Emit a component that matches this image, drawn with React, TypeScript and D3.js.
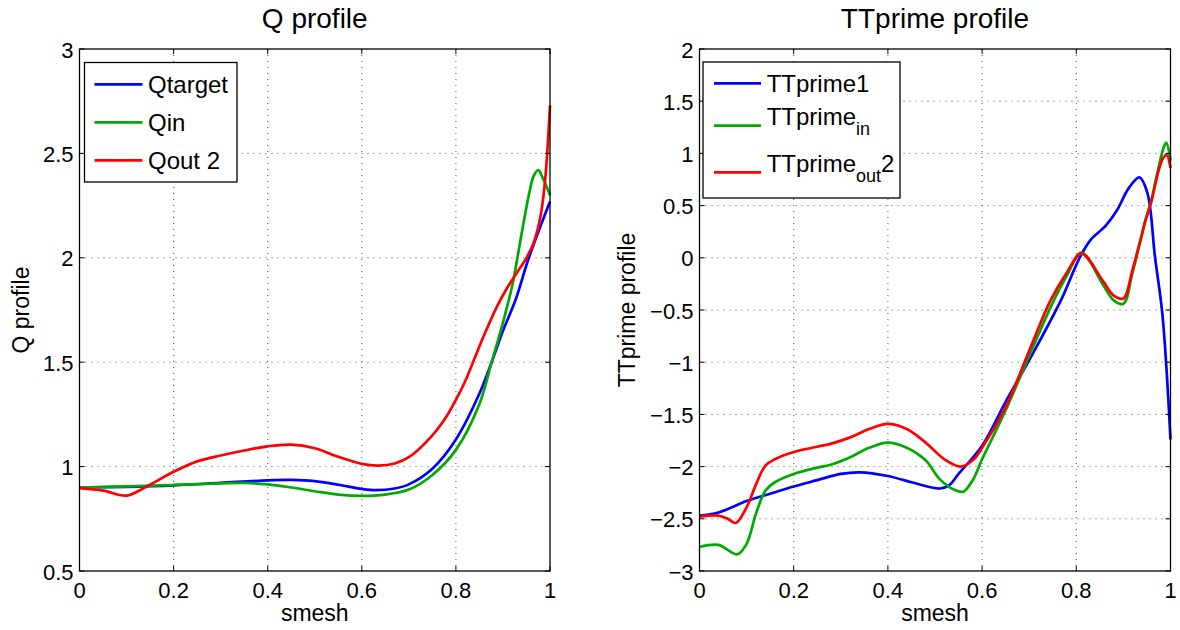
import React from "react";
import * as d3 from "d3";

// ---------- data ----------
const xTicks = [0, 0.2, 0.4, 0.6, 0.8, 1];
const xTickLabels = ["0", "0.2", "0.4", "0.6", "0.8", "1"];

const qYTicks = [0.5, 1, 1.5, 2, 2.5, 3];
const qYTickLabels = ["0.5", "1", "1.5", "2", "2.5", "3"];

const tYTicks = [-3, -2.5, -2, -1.5, -1, -0.5, 0, 0.5, 1, 1.5, 2];
const tYTickLabels = ["\u22123", "\u22122.5", "\u22122", "\u22121.5", "\u22121", "\u22120.5", "0", "0.5", "1", "1.5", "2"];

const qTargetS = [0, 0.1, 0.2, 0.3, 0.4, 0.45, 0.5, 0.55, 0.6, 0.63, 0.67, 0.7, 0.75, 0.8, 0.85, 0.876, 0.9, 0.927, 0.955, 1];
const qTargetV = [0.9, 0.903, 0.91, 0.922, 0.934, 0.936, 0.93, 0.913, 0.893, 0.887, 0.895, 0.915, 0.99, 1.13, 1.35, 1.5, 1.65, 1.8, 2.0, 2.27];

const qInS = [0, 0.1, 0.2, 0.3, 0.35, 0.4, 0.45, 0.5, 0.55, 0.6, 0.65, 0.7, 0.75, 0.8, 0.85, 0.876, 0.9, 0.92, 0.94, 0.955, 0.965, 0.975, 0.985, 1];
const qInV = [0.9, 0.905, 0.912, 0.92, 0.922, 0.915, 0.9, 0.882, 0.866, 0.86, 0.866, 0.89, 0.96, 1.08, 1.3, 1.5, 1.69, 1.87, 2.12, 2.3, 2.39, 2.42, 2.38, 2.3];

const qOutS = [0, 0.05, 0.1, 0.143, 0.2, 0.25, 0.3, 0.35, 0.4, 0.45, 0.5, 0.55, 0.6, 0.635, 0.67, 0.7, 0.75, 0.78, 0.8, 0.82, 0.84, 0.86, 0.888, 0.91, 0.93, 0.95, 0.965, 0.98, 0.99, 1];
const qOutV = [0.897, 0.885, 0.861, 0.905, 0.975, 1.025, 1.053, 1.077, 1.097, 1.105, 1.088, 1.047, 1.013, 1.005, 1.015, 1.045, 1.15, 1.24, 1.32, 1.41, 1.52, 1.63, 1.77, 1.86, 1.93, 2.0, 2.07, 2.2, 2.38, 2.73];

const tt1S = [0, 0.04, 0.1, 0.15, 0.2, 0.25, 0.3, 0.34, 0.4, 0.45, 0.51, 0.53, 0.55, 0.6, 0.65, 0.7, 0.767, 0.807, 0.83, 0.863, 0.887, 0.911, 0.934, 0.951, 0.967, 0.983, 1];
const tt1V = [-2.47, -2.44, -2.33, -2.26, -2.19, -2.13, -2.07, -2.055, -2.09, -2.15, -2.21, -2.18, -2.07, -1.8, -1.38, -0.98, -0.41, 0.0, 0.17, 0.31, 0.46, 0.665, 0.77, 0.62, 0.01, -0.55, -1.74];

const ttInS = [0, 0.04, 0.08, 0.1, 0.12, 0.14, 0.16, 0.2, 0.25, 0.28, 0.32, 0.36, 0.4, 0.44, 0.48, 0.51, 0.54, 0.56, 0.58, 0.6, 0.65, 0.7, 0.75, 0.78, 0.811, 0.855, 0.879, 0.9, 0.919, 0.935, 0.947, 0.959, 0.975, 0.985, 0.991, 1];
const ttInV = [-2.77, -2.75, -2.84, -2.74, -2.45, -2.23, -2.15, -2.07, -2.01, -1.98, -1.91, -1.82, -1.77, -1.82, -1.94, -2.12, -2.22, -2.24, -2.13, -1.93, -1.46, -0.94, -0.43, -0.17, 0.05, -0.245, -0.405, -0.44, -0.15, 0.14, 0.36, 0.55, 0.87, 1.05, 1.1, 0.93];

const ttOutS = [0, 0.04, 0.06, 0.077, 0.1, 0.12, 0.14, 0.16, 0.2, 0.25, 0.28, 0.32, 0.36, 0.4, 0.44, 0.48, 0.52, 0.555, 0.58, 0.6, 0.65, 0.7, 0.745, 0.78, 0.811, 0.855, 0.879, 0.9, 0.919, 0.935, 0.947, 0.959, 0.975, 0.985, 0.992, 1];
const ttOutV = [-2.48, -2.47, -2.5, -2.54, -2.39, -2.17, -1.99, -1.93, -1.86, -1.81, -1.78, -1.72, -1.64, -1.59, -1.64, -1.77, -1.93, -2.0, -1.94, -1.82, -1.43, -0.89, -0.41, -0.14, 0.04, -0.21, -0.36, -0.39, -0.12, 0.15, 0.36, 0.53, 0.84, 0.96, 0.985, 0.86];

const BLUE = "#0000ff";
const GREEN = "#00aa00";
const RED = "#ff0000";
const FONT = "'Liberation Sans', Arial, Helvetica, sans-serif";

type Series = { s: number[]; v: number[]; color: string };
type LegendRow = { parts: { t: string; sub?: boolean }[]; color: string; lineY: number; baseY: number };

function Panel(props: {
  x0: number; x1: number; y0: number; y1: number;
  yDomain: [number, number];
  yTicks: number[]; yTickLabels: string[];
  title: string; yLabel: string; yLabelX: number;
  series: Series[];
  legend: { bx: number; by: number; bw: number; bh: number; lx0: number; lx1: number; tx: number; rows: LegendRow[] };
}) {
  const { x0, x1, y0, y1 } = props;
  const xs = d3.scaleLinear().domain([0, 1]).range([x0, x1]);
  const ys = d3.scaleLinear().domain(props.yDomain).range([y1, y0]);
  const line = d3.line<[number, number]>().x((d) => xs(d[0])).y((d) => ys(d[1])).curve(d3.curveCatmullRom.alpha(0.5));
  const tick = 5;
  const lg = props.legend;
  return (
    <g fontFamily={FONT}>
      {/* grid */}
      {xTicks.map((t, i) =>
        i > 0 && i < xTicks.length - 1 ? (
          <line key={"gx" + i} x1={xs(t)} x2={xs(t)} y1={y0} y2={y1} stroke="#555" strokeWidth={1} strokeDasharray="1,5" />
        ) : null
      )}
      {props.yTicks.map((t, i) =>
        i > 0 && i < props.yTicks.length - 1 ? (
          <line key={"gy" + i} x1={x0} x2={x1} y1={ys(t)} y2={ys(t)} stroke="#555" strokeWidth={1} strokeDasharray="1,5" />
        ) : null
      )}
      {/* series */}
      {props.series.map((sr, i) => (
        <path key={"s" + i} d={line(sr.s.map((s, j) => [s, sr.v[j]] as [number, number])) || ""} fill="none" stroke={sr.color} strokeWidth={2.7} strokeLinejoin="round" />
      ))}
      {/* ticks */}
      {xTicks.map((t, i) => (
        <g key={"tx" + i}>
          <line x1={xs(t)} x2={xs(t)} y1={y1} y2={y1 - tick} stroke="#000" />
          <line x1={xs(t)} x2={xs(t)} y1={y0} y2={y0 + tick} stroke="#000" />
          <text x={xs(t)} y={598} fontSize={22} textAnchor="middle">{xTickLabels[i]}</text>
        </g>
      ))}
      {props.yTicks.map((t, i) => (
        <g key={"ty" + i}>
          <line x1={x0} x2={x0 + tick} y1={ys(t)} y2={ys(t)} stroke="#000" />
          <line x1={x1} x2={x1 - tick} y1={ys(t)} y2={ys(t)} stroke="#000" />
          <text x={x0 - 6} y={ys(t) + 8.5} fontSize={22} textAnchor="end">{props.yTickLabels[i]}</text>
        </g>
      ))}
      {/* box */}
      <rect x={x0} y={y0} width={x1 - x0} height={y1 - y0} fill="none" stroke="#000" strokeWidth={1.3} />
      {/* titles */}
      <text x={(x0 + x1) / 2} y={28} fontSize={28} textAnchor="middle">{props.title}</text>
      <text x={(x0 + x1) / 2} y={621} fontSize={23} textAnchor="middle">smesh</text>
      <text transform={`translate(${props.yLabelX},${(y0 + y1) / 2}) rotate(-90)`} fontSize={23} textAnchor="middle">{props.yLabel}</text>
      {/* legend */}
      <rect x={lg.bx} y={lg.by} width={lg.bw} height={lg.bh} fill="#fff" stroke="#000" strokeWidth={1.3} />
      {lg.rows.map((r, i) => {
        let shifted = false;
        return (
          <g key={"lg" + i}>
            <line x1={lg.lx0} x2={lg.lx1} y1={r.lineY} y2={r.lineY} stroke={r.color} strokeWidth={2.7} />
            <text x={lg.tx} y={r.baseY} fontSize={24}>
              {r.parts.map((p, k) => {
                let dy = 0;
                if (p.sub && !shifted) { dy = 10; shifted = true; }
                else if (!p.sub && shifted) { dy = -10; shifted = false; }
                return (
                  <tspan key={k} dy={dy} fontSize={p.sub ? 18 : 24}>{p.t}</tspan>
                );
              })}
            </text>
          </g>
        );
      })}
    </g>
  );
}

export default function App() {
  return (
    <svg width={1180} height={630} style={{ position: "absolute", left: 0, top: 0, background: "#fff" }}>
      <rect x={0} y={0} width={1180} height={630} fill="#fff" />
      <Panel
        x0={79.5} x1={550} y0={49} y1={571}
        yDomain={[0.5, 3]} yTicks={qYTicks} yTickLabels={qYTickLabels}
        title="Q profile" yLabel="Q profile" yLabelX={29}
        series={[
          { s: qTargetS, v: qTargetV, color: BLUE },
          { s: qInS, v: qInV, color: GREEN },
          { s: qOutS, v: qOutV, color: RED },
        ]}
        legend={{
          bx: 84.5, by: 62.5, bw: 152.5, bh: 119.5, lx0: 94.5, lx1: 142.5, tx: 148,
          rows: [
            { parts: [{ t: "Qtarget" }], color: BLUE, lineY: 84.3, baseY: 93.3 },
            { parts: [{ t: "Qin" }], color: GREEN, lineY: 122.3, baseY: 131 },
            { parts: [{ t: "Qout 2" }], color: RED, lineY: 160.3, baseY: 169 },
          ],
        }}
      />
      <Panel
        x0={699.5} x1={1170.5} y0={49} y1={571}
        yDomain={[-3, 2]} yTicks={tYTicks} yTickLabels={tYTickLabels}
        title="TTprime profile" yLabel="TTprime profile" yLabelX={635}
        series={[
          { s: tt1S, v: tt1V, color: BLUE },
          { s: ttInS, v: ttInV, color: GREEN },
          { s: ttOutS, v: ttOutV, color: RED },
        ]}
        legend={{
          bx: 703, by: 62, bw: 197, bh: 136, lx0: 714, lx1: 761, tx: 766.7,
          rows: [
            { parts: [{ t: "TTprime1" }], color: BLUE, lineY: 83.3, baseY: 91.7 },
            { parts: [{ t: "TTprime" }, { t: "in", sub: true }], color: GREEN, lineY: 125.7, baseY: 125 },
            { parts: [{ t: "TTprime" }, { t: "out", sub: true }, { t: "2" }], color: RED, lineY: 172.3, baseY: 171.7 },
          ],
        }}
      />
    </svg>
  );
}
